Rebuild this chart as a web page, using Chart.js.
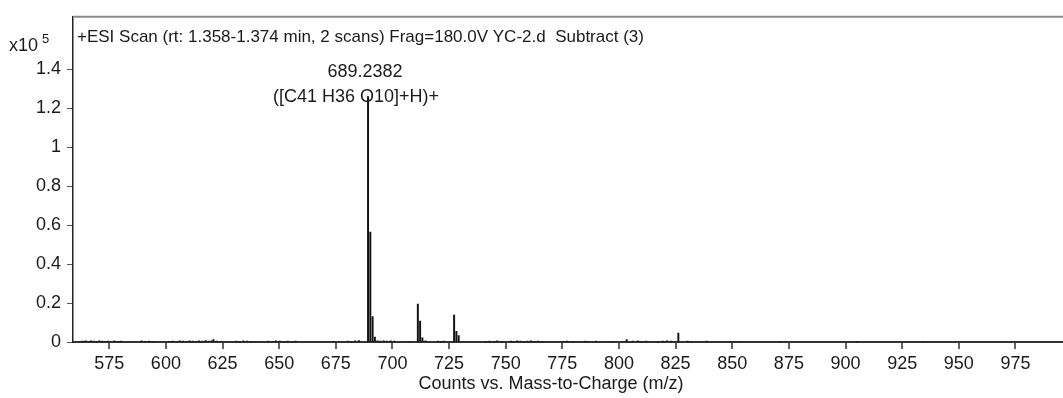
<!DOCTYPE html>
<html>
<head>
<meta charset="utf-8">
<script src="https://cdn.jsdelivr.net/npm/chart.js@4.4.0/dist/chart.umd.min.js"></script>
<style>
  html, body { margin: 0; padding: 0; background: #fff; }
  #spectrum { display: block; }
</style>
</head>
<body>
<canvas id="spectrum" width="1063" height="398"></canvas>
<script>
// main ions (m/z, counts x10^5)
const peakMz = [689.2382, 690.241, 691.244, 692.25, 711.22, 712.22, 713.23, 727.23, 728.23, 729.24, 826.2, 621.0, 803.4];
const peakCounts = [1.26, 0.565, 0.13, 0.025, 0.195, 0.107, 0.022, 0.138, 0.055, 0.033, 0.046, 0.012, 0.012];

// small baseline peaks
const noiseMz = [563.2, 564.5, 565.8, 566.9, 568.1, 569.4, 570.6, 571.9, 573.3, 574.6,
  577.2, 578.8, 580.1, 589.3, 590.8, 592.6, 594.0, 601.4, 603.0, 604.7,
  606.1, 607.5, 608.9, 610.4, 611.8, 613.3, 614.6, 616.0, 617.5, 618.9,
  620.2, 622.4, 624.3, 631.1, 632.6, 634.2, 635.8, 637.5, 645.2, 646.9,
  648.5, 650.3, 652.0, 653.8, 655.6, 657.3, 674.1, 680.3, 682.0, 683.6,
  685.2, 693.4, 694.6, 696.1, 697.5, 699.2, 700.8, 707.2, 714.6, 720.1,
  721.4, 722.6, 741.2, 742.9, 744.7, 746.3, 748.1, 752.3, 753.6, 755.1,
  756.5, 758.0, 759.6, 761.2, 762.8, 764.3, 766.0, 775.3, 777.1, 779.6,
  785.2, 786.8, 789.9, 797.2, 806.1, 808.4, 810.3, 812.0, 817.4, 819.3,
  821.2, 823.1, 830.3, 832.0, 838.7, 849.5, 853.6, 871.2, 905.1, 934.2];
const noiseCounts = [0.005, 0.006, 0.004, 0.006, 0.005, 0.004, 0.006, 0.005, 0.004, 0.005,
  0.006, 0.004, 0.005, 0.006, 0.004, 0.005, 0.004, 0.004, 0.005, 0.004,
  0.006, 0.005, 0.004, 0.006, 0.005, 0.004, 0.006, 0.005, 0.007, 0.005,
  0.006, 0.005, 0.004, 0.005, 0.004, 0.006, 0.005, 0.004, 0.005, 0.004,
  0.006, 0.005, 0.004, 0.005, 0.004, 0.005, 0.004, 0.005, 0.004, 0.006,
  0.007, 0.006, 0.005, 0.006, 0.005, 0.006, 0.005, 0.004, 0.006, 0.005,
  0.004, 0.005, 0.004, 0.005, 0.004, 0.006, 0.004, 0.005, 0.004, 0.006,
  0.005, 0.004, 0.005, 0.006, 0.004, 0.005, 0.004, 0.004, 0.005, 0.004,
  0.005, 0.004, 0.005, 0.004, 0.005, 0.006, 0.004, 0.005, 0.004, 0.005,
  0.006, 0.005, 0.005, 0.004, 0.005, 0.004, 0.004, 0.004, 0.004, 0.004];

const xTicks = [575, 600, 625, 650, 675, 700, 725, 750, 775, 800, 825, 850, 875, 900, 925, 950, 975];
const yTicks = [0, 0.2, 0.4, 0.6, 0.8, 1, 1.2, 1.4];

const titleText = '+ESI Scan (rt: 1.358-1.374 min, 2 scans) Frag=180.0V YC-2.d  Subtract (3)';
const peakLabel = ['689.2382', '([C41 H36 O10]+H)+'];
const xTitle = 'Counts vs. Mass-to-Charge (m/z)';

const FONT = '"Liberation Sans", Arial, sans-serif';

const points = peakMz.map((m, i) => ({ x: m, y: peakCounts[i] }))
  .concat(noiseMz.map((m, i) => ({ x: m, y: noiseCounts[i] })));

const textPlugin = {
  id: 'spectrumText',
  afterDraw(chart) {
    const ctx = chart.ctx;
    const area = chart.chartArea;
    const xs = chart.scales.x;
    ctx.save();

    // top frame line
    ctx.strokeStyle = '#8a8a8a';
    ctx.lineWidth = 2;
    ctx.beginPath();
    ctx.moveTo(area.left, area.top);
    ctx.lineTo(area.right, area.top);
    ctx.stroke();

    // x tick marks below the axis
    ctx.strokeStyle = '#333';
    ctx.lineWidth = 1.5;
    ctx.beginPath();
    xTicks.forEach(v => {
      const x = Math.round(xs.getPixelForValue(v));
      ctx.moveTo(x, area.bottom);
      ctx.lineTo(x, area.bottom + 7);
    });
    ctx.stroke();

    ctx.fillStyle = '#1a1a1a';
    ctx.textBaseline = 'middle';

    ctx.font = '17px ' + FONT;
    ctx.textAlign = 'left';
    ctx.fillText(titleText, area.left + 4, 37);

    ctx.font = '18px ' + FONT;
    ctx.fillText('x10', 9, 46);
    ctx.font = '13px ' + FONT;
    ctx.fillText('5', 42, 39);

    const px = xs.getPixelForValue(peakMz[0]);
    ctx.font = '18px ' + FONT;
    ctx.textAlign = 'center';
    ctx.fillText(peakLabel[0], px - 3, 72);
    ctx.fillText(peakLabel[1], px - 12, 97);

    ctx.fillText(xTitle, 551, 384);
    ctx.restore();
  }
};

new Chart(document.getElementById('spectrum'), {
  type: 'bar',
  data: {
    datasets: [{
      data: points,
      backgroundColor: '#111',
      borderWidth: 0,
      barThickness: 1.3,
      grouped: false
    }]
  },
  options: {
    responsive: false,
    animation: false,
    layout: { padding: { top: 15, right: 0, left: 0, bottom: 0 } },
    plugins: { legend: { display: false }, tooltip: { enabled: false } },
    scales: {
      x: {
        type: 'linear',
        min: 559,
        max: 996,
        offset: false,
        afterBuildTicks: s => { s.ticks = xTicks.map(v => ({ value: v })); },
        afterFit: s => { s.height = 56; },
        grid: { display: false },
        border: { display: true, color: '#333', width: 2 },
        ticks: { font: { family: FONT, size: 18 }, color: '#1a1a1a', padding: 3, maxRotation: 0, autoSkip: false }
      },
      y: {
        min: 0,
        max: 1.67,
        afterBuildTicks: s => { s.ticks = yTicks.map(v => ({ value: v })); },
        afterFit: s => { s.width = 73; },
        grid: { drawOnChartArea: false, drawTicks: true, tickLength: 6, color: '#555', lineWidth: 1 },
        border: { display: true, color: '#222', width: 1.5 },
        ticks: {
          font: { family: FONT, size: 18 }, color: '#1a1a1a', padding: 6,
          callback: v => String(parseFloat(v.toFixed(1)))
        }
      }
    }
  },
  plugins: [textPlugin]
});
</script>
</body>
</html>
